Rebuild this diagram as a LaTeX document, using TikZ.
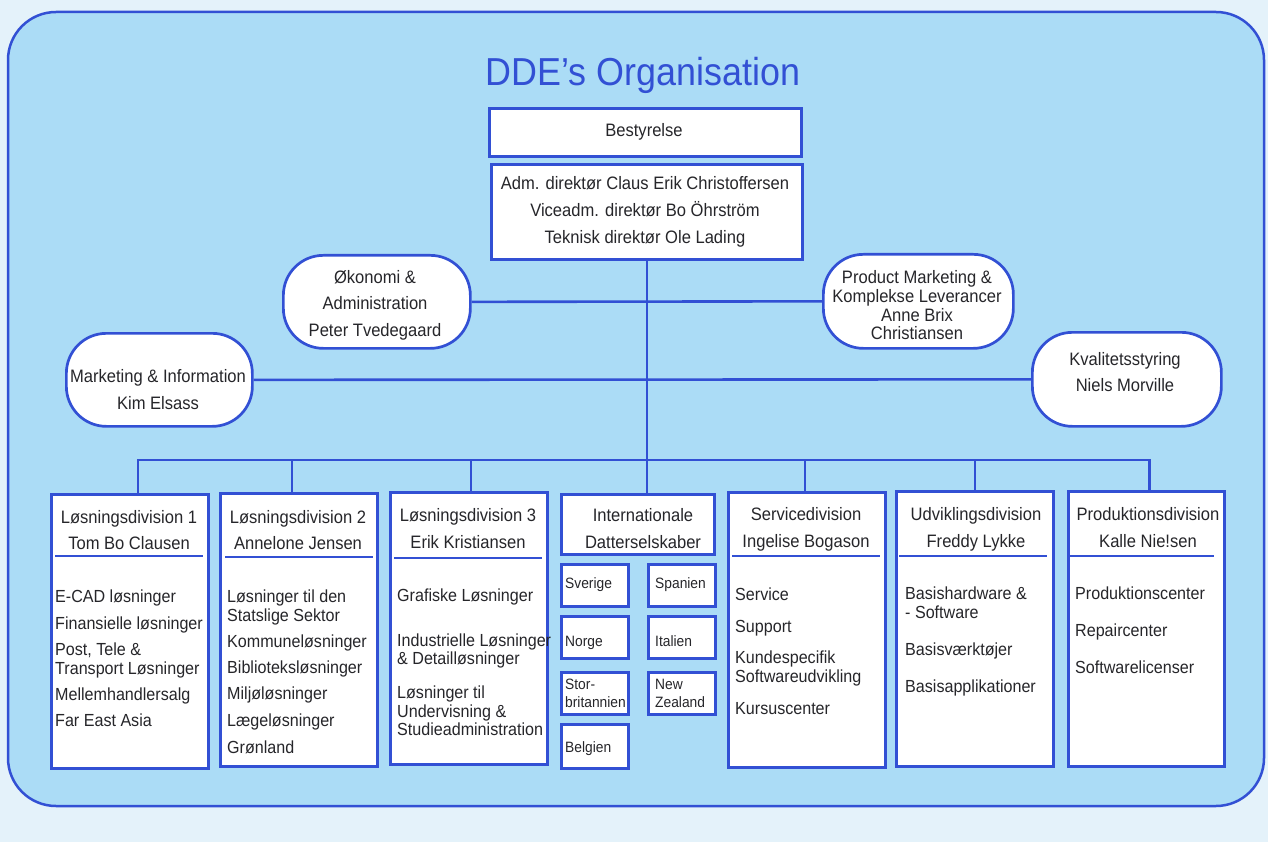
\documentclass[tikz,border=0pt]{standalone}
\usepackage{fontspec}
\setmainfont{Liberation Sans}[FakeStretch=0.92]
\definecolor{pagebg}{RGB}{228,242,250}
\definecolor{panel}{RGB}{171,220,246}
\definecolor{rule}{RGB}{50,80,212}
\definecolor{ink}{RGB}{38,38,42}
% box from (x1,y1) to (x2,y2), y grows downwards
\newcommand\boxnode[6][]{\node[box,#1,anchor=north west,minimum width=#5pt-#3pt,minimum height=#6pt-#4pt] (#2) at (#3,#4) {};}
\tikzset{
  box/.style={draw=rule, line width=2.7pt, fill=white, inner sep=0pt, rectangle},
  pill/.style={box, rounded corners=40pt},
  cbox/.style={box, line width=2.5pt},
  link/.style={draw=rule, line width=2.6pt},
  sepline/.style={draw=rule, line width=2.5pt},
  txt/.style={inner sep=0pt, text=ink, yshift=-3pt},
  hd/.style={txt, font=\fontsize{18}{20}\selectfont, anchor=mid},
  it/.style={txt, font=\fontsize{17.5}{20}\selectfont, anchor=mid west},
  ct/.style={txt, font=\fontsize{15}{17}\selectfont, anchor=mid west},
}
\begin{document}
\begin{tikzpicture}[x=1pt,y=-1pt]
\fill[pagebg] (0,0) rectangle (1268,842);
\useasboundingbox (0,0) rectangle (1268,842);
\draw[rule, line width=2.5pt, fill=panel, rounded corners=48pt] (8,12) rectangle (1264,806);

% title
\node[inner sep=0pt, text=rule, font=\fontsize{39}{42}\selectfont, anchor=base] (title) at (643,86) {DDE’s Organisation};

% management
\boxnode{board}{488}{107}{800}{155}
\node[hd] (boardt) at (644,131) {Bestyrelse};
\boxnode{dir}{490}{163}{801}{258}
\node[hd] (dir1) at (645,184) {Adm. direktør Claus Erik Christoffersen};
\node[hd] (dir2) at (645,211) {Viceadm. direktør Bo Öhrström};
\node[hd] (dir3) at (645,238) {Teknisk direktør Ole Lading};

% staff functions
\boxnode[pill]{oek}{282}{254}{469}{347}
\node[hd] (oek1) at (375,278) {Økonomi \&};
\node[hd] (oek2) at (375,304) {Administration};
\node[hd] (oek3) at (375,331) {Peter Tvedegaard};
\boxnode[pill]{pm}{822}{253}{1012}{347}
\node[hd] (pm1) at (917,278) {Product Marketing \&};
\node[hd] (pm2) at (917,297) {Komplekse Leverancer};
\node[hd] (pm3) at (917,316) {Anne Brix};
\node[hd] (pm4) at (917,334) {Christiansen};
\boxnode[pill]{mkt}{65}{332}{251}{425}
\node[hd] (mkt1) at (158,377) {Marketing \& Information};
\node[hd] (mkt2) at (158,404) {Kim Elsass};
\boxnode[pill]{kval}{1031}{331}{1220}{425}
\node[hd] (kval1) at (1125,360) {Kvalitetsstyring};
\node[hd] (kval2) at (1125,386) {Niels Morville};

% divisions
\boxnode{d1}{50}{493}{207}{767}
\boxnode{d2}{219}{492}{376}{765}
\boxnode{d3}{389}{491}{546}{763}
\boxnode{intl}{560}{493}{713}{553}
\boxnode{d5}{727}{491}{884}{766}
\boxnode{d6}{895}{490}{1052}{765}
\boxnode{d7}{1067}{490}{1223}{765}

% subsidiaries
\boxnode[cbox]{se}{560}{563}{627}{605}
\boxnode[cbox]{es}{647}{563}{714}{605}
\boxnode[cbox]{no}{560}{615}{627}{657}
\boxnode[cbox]{it}{647}{615}{714}{657}
\boxnode[cbox]{uk}{560}{671}{627}{713}
\boxnode[cbox]{nz}{647}{671}{714}{713}
\boxnode[cbox]{be}{560}{723}{627}{767}

% connectors
\draw[link] (dir.south) -- (dir.south |- intl.north);
\draw[link] (oek.east) -- (pm.west);
\draw[link] (mkt.east) -- (kval.west);
\coordinate (bus) at (645,460);
\coordinate (t1) at ([xshift=8pt]d1.north);
\coordinate (t2) at ([xshift=-7pt]d2.north);
\coordinate (t3) at ([xshift=2pt]d3.north);
\coordinate (t5) at ([xshift=-2pt]d5.north);
\coordinate (t6) at (d6.north);
\coordinate (t7) at ([xshift=3pt]d7.north);
\draw[link] (t1) |- (bus) -| (t7);
\foreach \t in {t2,t3,t5,t6} \draw[link] (\t) -- (\t |- bus);

% header rules
\draw[sepline] (55,556) -- (203,556);
\draw[sepline] (225,557) -- (373,557);
\draw[sepline] (394,558) -- (542,558);
\draw[sepline] (732,556) -- (880,556);
\draw[sepline] (899,556) -- (1047,556);
\draw[sepline] (1068,556) -- (1214,556);

% Løsningsdivision 1
\node[hd] (d1h1) at (129,518) {Løsningsdivision 1};
\node[hd] (d1h2) at (129,544) {Tom Bo Clausen};
\node[it] (d1a) at (55,597) {E-CAD løsninger};
\node[it] (d1b) at (55,624) {Finansielle løsninger};
\node[it] (d1c) at (55,650) {Post, Tele \&};
\node[it] (d1d) at (55,669) {Transport Løsninger};
\node[it] (d1e) at (55,695) {Mellemhandlersalg};
\node[it] (d1f) at (55,721) {Far East Asia};

% Løsningsdivision 2
\node[hd] (d2h1) at (298,518) {Løsningsdivision 2};
\node[hd] (d2h2) at (298,544) {Annelone Jensen};
\node[it] (d2a) at (227,597) {Løsninger til den};
\node[it] (d2b) at (227,616) {Statslige Sektor};
\node[it] (d2c) at (227,642) {Kommuneløsninger};
\node[it] (d2d) at (227,668) {Biblioteksløsninger};
\node[it] (d2e) at (227,694) {Miljøløsninger};
\node[it] (d2f) at (227,721) {Lægeløsninger};
\node[it] (d2g) at (227,748) {Grønland};

% Løsningsdivision 3
\node[hd] (d3h1) at (468,516) {Løsningsdivision 3};
\node[hd] (d3h2) at (468,543) {Erik Kristiansen};
\node[it] (d3a) at (397,596) {Grafiske Løsninger};
\node[it] (d3b) at (397,641) {Industrielle Løsninger};
\node[it] (d3c) at (397,659) {\& Detailløsninger};
\node[it] (d3d) at (397,693) {Løsninger til};
\node[it] (d3e) at (397,712) {Undervisning \&};
\node[it] (d3f) at (397,730) {Studieadministration};

% Internationale Datterselskaber
\node[hd] (inth1) at (643,516) {Internationale};
\node[hd] (inth2) at (643,543) {Datterselskaber};
\node[ct] (set) at (565,583) {Sverige};
\node[ct] (est) at (655,583) {Spanien};
\node[ct] (not) at (565,641) {Norge};
\node[ct] (itt) at (655,641) {Italien};
\node[ct] (ukt1) at (565,684) {Stor-};
\node[ct] (ukt2) at (565,702) {britannien};
\node[ct] (nzt1) at (655,684) {New};
\node[ct] (nzt2) at (655,702) {Zealand};
\node[ct] (bet) at (565,747) {Belgien};

% Servicedivision
\node[hd] (d5h1) at (806,515) {Servicedivision};
\node[hd] (d5h2) at (806,542) {Ingelise Bogason};
\node[it] (d5a) at (735,595) {Service};
\node[it] (d5b) at (735,627) {Support};
\node[it] (d5c) at (735,658) {Kundespecifik};
\node[it] (d5d) at (735,677) {Softwareudvikling};
\node[it] (d5e) at (735,709) {Kursuscenter};

% Udviklingsdivision
\node[hd] (d6h1) at (976,515) {Udviklingsdivision};
\node[hd] (d6h2) at (976,542) {Freddy Lykke};
\node[it] (d6a) at (905,594) {Basishardware \&};
\node[it] (d6b) at (905,613) {- Software};
\node[it] (d6c) at (905,650) {Basisværktøjer};
\node[it] (d6d) at (905,687) {Basisapplikationer};

% Produktionsdivision
\node[hd] (d7h1) at (1148,515) {Produktionsdivision};
\node[hd] (d7h2) at (1148,542) {Kalle Nie!sen};
\node[it] (d7a) at (1075,594) {Produktionscenter};
\node[it] (d7b) at (1075,631) {Repaircenter};
\node[it] (d7c) at (1075,668) {Softwarelicenser};
\end{tikzpicture}
\end{document}
